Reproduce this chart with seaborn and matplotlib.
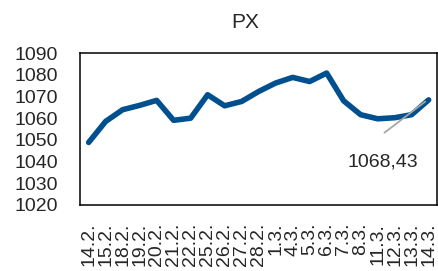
import numpy as np
import pandas as pd
import matplotlib
matplotlib.use("Agg")
import matplotlib.pyplot as plt
import seaborn as sns

# --- data ---
dates = ["14.2.", "15.2.", "18.2.", "19.2.", "20.2.", "21.2.", "22.2.", "25.2.",
         "26.2.", "27.2.", "28.2.", "1.3.", "4.3.", "5.3.", "6.3.", "7.3.",
         "8.3.", "11.3.", "12.3.", "13.3.", "14.3."]
px_values = [1048.8, 1058.5, 1063.9, 1065.9, 1068.2, 1059.0, 1060.0, 1070.8,
             1065.7, 1067.7, 1072.3, 1076.2, 1078.8, 1076.9, 1080.8, 1068.0,
             1061.6, 1059.7, 1060.2, 1061.6, 1068.43]
y_ticks = [1020, 1030, 1040, 1050, 1060, 1070, 1080, 1090]
last_label = "1068,43"

df = pd.DataFrame({"idx": np.arange(len(dates)), "px": px_values})

sns.set_style("white")
plt.rcParams["font.family"] = ["Liberation Sans", "DejaVu Sans"]
FS = 14

fig = plt.figure(figsize=(4.38, 2.71), dpi=100)
ax = fig.add_axes([0.183, 0.244, 0.815, 0.560])

sns.lineplot(data=df, x="idx", y="px", ax=ax, color="#00508F", linewidth=4.0,
             solid_capstyle="round", solid_joinstyle="round")

ax.set_xlim(-0.5, len(dates) - 0.5)
ax.set_ylim(1020, 1090)
ax.set_yticks(y_ticks)
ax.set_yticklabels([str(t) for t in y_ticks], fontsize=FS)
ax.set_xticks(df["idx"])
ax.set_xticklabels(dates, rotation=90, fontsize=FS)
ax.tick_params(axis="y", length=0, pad=16)
ax.tick_params(axis="x", length=0, pad=13)
ax.set_xlabel("")
ax.set_ylabel("")

for s in ax.spines.values():
    s.set_color("black")
    s.set_linewidth(1.1)

# label of the last value with a gray leader line
last_i = df["idx"].iloc[-1]
ax.annotate("", xy=(last_i - 0.2, px_values[-1] - 0.8), xytext=(17.4, 1053.3),
            arrowprops=dict(arrowstyle="-", color="#A6A6A6", lw=1.3,
                            shrinkA=0, shrinkB=0))
ax.text(17.3, 1040, last_label, fontsize=FS, ha="center", va="center")

fig.text(0.559, 0.918, "PX", fontsize=15, ha="center", va="center")

fig.savefig("out.png", dpi=100)
